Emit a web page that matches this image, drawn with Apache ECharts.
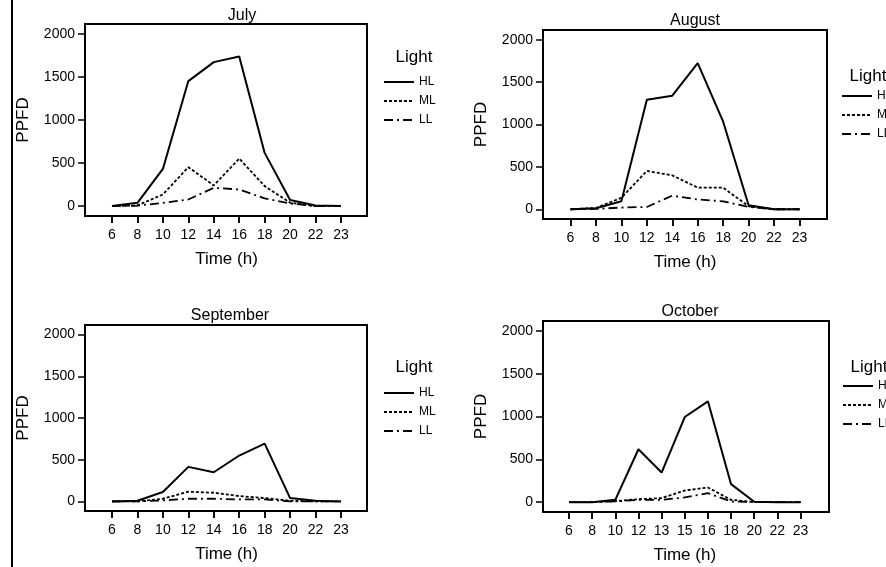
<!DOCTYPE html>
<html>
<head>
<meta charset="utf-8">
<script src="https://cdn.jsdelivr.net/npm/echarts@6/dist/echarts.min.js"></script>
<style>
    html, body { margin: 0; padding: 0; background: #fff; }
    #main { width: 886px; height: 567px; }
</style>
</head>
<body>
<div id="main"></div>
<script>
// categories (time of day)
var hours = ['6', '8', '10', '12', '14', '16', '18', '20', '22', '23'];
var hoursOct = ['6', '8', '10', '12', '13', '15', '16', '18', '20', '22', '23'];
var yTicks = [0, 500, 1000, 1500, 2000];
var lightNames = ['HL', 'ML', 'LL'];

// PPFD values
var julyHL = [0, 38, 432, 1452, 1672, 1737, 618, 70, 8, 0];
var julyML = [0, 8, 135, 452, 240, 552, 232, 39, 0, 0];
var julyLL = [0, 5, 38, 77, 212, 193, 89, 31, 0, 0];

var augHL = [0, 12, 94, 1293, 1340, 1725, 1033, 47, 0, 0];
var augML = [0, 15, 135, 452, 400, 255, 255, 35, 0, 0];
var augLL = [0, 4, 20, 27, 160, 115, 94, 27, 0, 0];

var sepHL = [0, 8, 112, 414, 350, 550, 693, 40, 8, 0];
var sepML = [0, 0, 32, 116, 104, 64, 40, 8, 0, 0];
var sepLL = [0, 0, 12, 32, 32, 24, 24, 0, 0, 0];

var octHL = [0, 0, 27, 618, 346, 994, 1177, 210, 4, 0, 0];
var octML = [0, 0, 12, 35, 47, 136, 171, 27, 0, 0, 0];
var octLL = [0, 0, 8, 27, 27, 55, 105, 8, 0, 0, 0];

// box = frame [left, top, right, bottom], span = first/last category x
var panels = [
    { title: 'July', cats: hours, hl: julyHL, ml: julyML, ll: julyLL,
      box: [85, 24, 367, 216], span: [112, 341], titleX: 242, titleY: 8,
      legX: 383, legY: 76, lightX: 414, lightY: 58 },
    { title: 'August', cats: hours, hl: augHL, ml: augML, ll: augLL,
      box: [543, 30, 827, 219], span: [570.5, 799.5], titleX: 695, titleY: 13,
      legX: 841, legY: 90, lightX: 868, lightY: 77 },
    { title: 'September', cats: hours, hl: sepHL, ml: sepML, ll: sepLL,
      box: [85, 325, 367, 511], span: [112, 341], titleX: 230, titleY: 308,
      legX: 383, legY: 387, lightX: 414, lightY: 368 },
    { title: 'October', cats: hoursOct, hl: octHL, ml: octML, ll: octLL,
      box: [543, 321, 829, 512], span: [569, 800.5], titleX: 690, titleY: 304,
      legX: 842, legY: 380, lightX: 869, lightY: 368 }
];

var FONT = 'Liberation Sans';
var TICK_LEN = 7;
var lineTypes = {
    HL: 'solid',
    ML: [3, 2],
    LL: [9, 4, 2, 4]
};

var myChart = echarts.init(document.getElementById('main'));

var grids = [], xAxes = [], yAxes = [], series = [], titles = [], legends = [];
var graphics = [{
    // page edge line on the left
    type: 'rect',
    shape: { x: 11, y: 0, width: 2, height: 567 },
    style: { fill: '#000' }
}];

// data grids: 0..3
panels.forEach(function (p, k) {
    // frame around each panel
    graphics.push({
        type: 'rect',
        shape: { x: p.box[0], y: p.box[1], width: p.box[2] - p.box[0], height: p.box[3] - p.box[1] },
        style: { fill: 'none', stroke: '#000', lineWidth: 2 },
        z: 10
    });
    grids.push({
        left: p.span[0],
        top: p.box[1],
        width: p.span[1] - p.span[0],
        height: p.box[3] - p.box[1]
    });
    xAxes.push({
        type: 'category',
        gridIndex: k,
        data: p.cats,
        boundaryGap: false,
        name: 'Time (h)',
        nameLocation: 'middle',
        nameGap: 35,
        nameTextStyle: { fontFamily: FONT, fontSize: 17, color: '#000' },
        axisLine: { show: false, onZero: false },
        axisTick: {
            show: true,
            interval: 0,
            length: TICK_LEN,
            lineStyle: { color: '#000', width: 1.5 }
        },
        axisLabel: {
            interval: 0,
            margin: 12,
            fontFamily: FONT,
            fontSize: 14,
            color: '#000'
        },
        splitLine: { show: false }
    });
    yAxes.push({
        type: 'value',
        gridIndex: k,
        min: -115,
        max: 2115,
        offset: p.span[0] - p.box[0],
        name: 'PPFD',
        nameLocation: 'middle',
        nameRotate: 90,
        nameGap: 53,
        nameTextStyle: { fontFamily: FONT, fontSize: 17, color: '#000' },
        axisLine: { show: false, onZero: false },
        axisTick: {
            show: true,
            length: TICK_LEN,
            customValues: yTicks,
            lineStyle: { color: '#000', width: 1.5 }
        },
        axisLabel: {
            customValues: yTicks,
            margin: 10,
            fontFamily: FONT,
            fontSize: 14,
            color: '#000',
            formatter: function (v) { return String(v); }
        },
        splitLine: { show: false }
    });
    [['HL', p.hl], ['ML', p.ml], ['LL', p.ll]].forEach(function (s) {
        series.push({
            name: s[0],
            type: 'line',
            xAxisIndex: k,
            yAxisIndex: k,
            data: s[1],
            symbol: 'none',
            silent: true,
            itemStyle: { color: '#000' },
            lineStyle: {
                color: '#000',
                width: s[0] === 'HL' ? 2 : 1.8,
                type: lineTypes[s[0]]
            }
        });
    });
    titles.push({
        text: p.title,
        left: p.titleX,
        top: p.titleY,
        textAlign: 'center',
        padding: 0,
        textStyle: { fontFamily: FONT, fontSize: 16, fontWeight: 'normal', color: '#000' }
    });
    // legend heading
    titles.push({
        text: 'Light',
        left: p.lightX,
        top: p.lightY - 9,
        textAlign: 'center',
        padding: 0,
        textStyle: { fontFamily: FONT, fontSize: 17, fontWeight: 'normal', color: '#000' }
    });
    legends.push({
        data: lightNames,
        orient: 'vertical',
        left: p.legX,
        top: p.legY,
        padding: 0,
        itemWidth: 30,
        itemHeight: 10,
        itemGap: 7,
        itemStyle: { opacity: 0 },
        textStyle: { fontFamily: FONT, fontSize: 12, color: '#000' }
    });
});

// thin strips under each frame (grids 4..7): their split lines give the hour ticks
panels.forEach(function (p, k) {
    var g = panels.length + k;
    grids.push({
        left: p.span[0],
        top: p.box[3],
        width: p.span[1] - p.span[0],
        height: TICK_LEN
    });
    xAxes.push({
        type: 'category',
        gridIndex: g,
        data: p.cats,
        boundaryGap: false,
        axisLine: { show: false },
        axisTick: { show: false },
        axisLabel: { show: false },
        splitLine: {
            show: true,
            interval: 0,
            lineStyle: { color: '#000', width: 1.5 }
        }
    });
    yAxes.push({
        type: 'value',
        gridIndex: g,
        min: 0,
        max: 1,
        show: false
    });
});

var option = {
    animation: false,
    title: titles,
    legend: legends,
    grid: grids,
    xAxis: xAxes,
    yAxis: yAxes,
    series: series,
    graphic: graphics
};

myChart.setOption(option);
window.addEventListener("resize", function () {
    myChart.resize();
});
</script>
</body>
</html>
